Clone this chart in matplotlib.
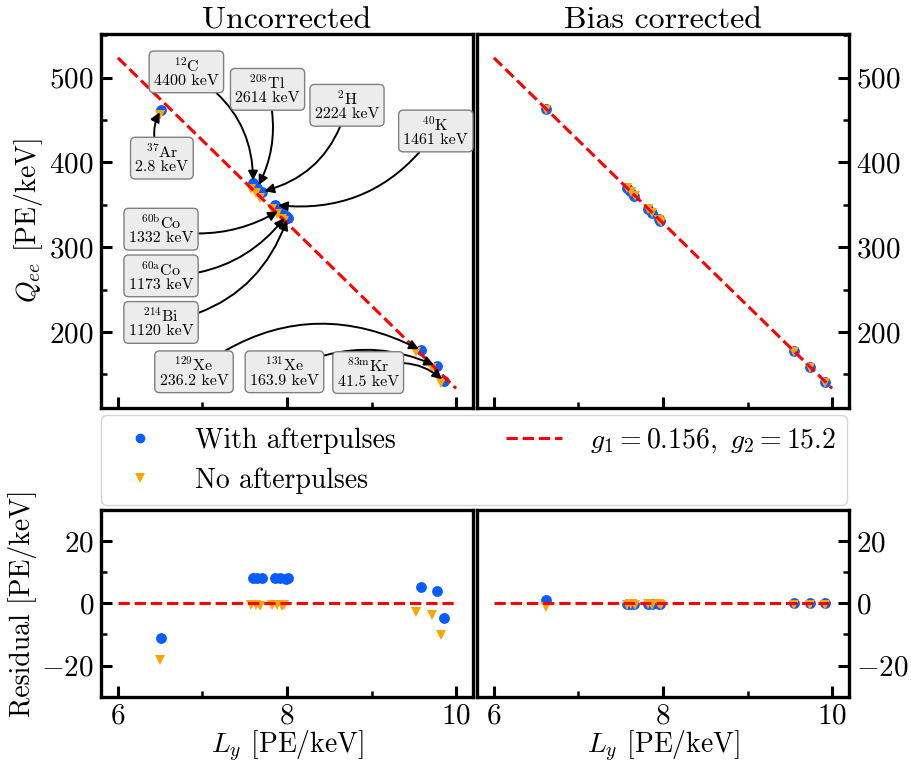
import numpy as np
import matplotlib
matplotlib.use("Agg")
import matplotlib.pyplot as plt
from matplotlib.ticker import MultipleLocator
from matplotlib.lines import Line2D

plt.rcParams.update({
    "font.family": "serif",
    "font.serif": ["cmr10", "DejaVu Serif"],
    "mathtext.fontset": "cm",
    "axes.formatter.use_mathtext": True,
    "font.size": 20,
})

# Detector gains and work function for the reference line
G1 = 0.156
G2 = 15.2
W_KEV = 0.01372

# Calibration sources
isotopes = [r"$^{37}$Ar", r"$^{12}$C", r"$^{208}$Tl", r"$^{2}$H", r"$^{40}$K",
            r"$^{60\mathrm{b}}$Co", r"$^{60\mathrm{a}}$Co", r"$^{214}$Bi",
            r"$^{129}$Xe", r"$^{131}$Xe", r"$^{83\mathrm{m}}$Kr"]
energies = ["2.8", "4400", "2614", "2224", "1461", "1332", "1173", "1120",
            "236.2", "163.9", "41.5"]

# Uncorrected yields, with afterpulses
ly_ap_unc = [6.51, 7.60, 7.65, 7.70, 7.86, 7.92, 7.99, 8.01, 9.59, 9.77, 9.86]
qee_ap_unc = [462.0, 375.3, 370.3, 365.3, 349.7, 343.9, 336.9, 335.0, 178.3, 159.7, 142.2]
res_ap_unc = [-11.2, 8.3, 8.2, 8.1, 8.0, 8.1, 7.9, 8.0, 5.2, 4.1, -4.6]

# Uncorrected yields, no afterpulses
ly_nap_unc = [6.50, 7.58, 7.63, 7.68, 7.82, 7.88, 7.94, 7.96, 9.53, 9.71, 9.82]
qee_nap_unc = [456.0, 368.3, 363.6, 358.5, 345.0, 339.2, 333.2, 331.3, 176.1, 157.5, 140.4]
res_nap_unc = [-18.2, -0.6, -0.5, -0.7, -0.6, -0.5, -0.7, -0.6, -2.8, -3.9, -10.3]

# Bias corrected yields, with afterpulses
ly_ap_cor = [6.62, 7.57, 7.61, 7.66, 7.82, 7.87, 7.95, 7.97, 9.55, 9.74, 9.92]
qee_ap_cor = [463.5, 369.7, 365.7, 360.9, 345.5, 340.4, 332.7, 330.7, 177.2, 158.6, 141.1]
res_ap_cor = [1.0, -0.2, -0.3, -0.2, -0.1, -0.3, -0.2, -0.2, 0.2, 0.1, 0.2]

# Bias corrected yields, no afterpulses
ly_nap_cor = [6.62, 7.57, 7.62, 7.67, 7.82, 7.87, 7.95, 7.98, 9.55, 9.74, 9.92]
qee_nap_cor = [461.3, 369.5, 364.7, 359.8, 345.3, 340.3, 332.6, 329.6, 176.5, 158.0, 140.4]
res_nap_cor = [-1.2, -0.4, -0.3, -0.4, -0.3, -0.4, -0.3, -0.4, -0.5, -0.5, -0.5]

# Label box placement (data coordinates) and arrow curvature
box_ly = [6.52, 6.81, 7.77, 8.71, 9.76, 6.51, 6.51, 6.51, 6.90, 7.97, 8.96]
box_q = [405.0, 506.7, 486.1, 467.3, 437.0, 321.2, 266.2, 211.3, 153.1, 153.1, 152.2]
arrow_rad = [-0.3, -0.3, -0.2, -0.3, -0.3, 0.2, 0.25, 0.3, -0.32, -0.25, -0.35]

BLUE = "#0a5cff"
ORANGE = "#ffa500"

ly_line = np.linspace(6, 10, 200)
q_line = G2 * (1.0 / W_KEV - ly_line / G1)

W, H = 912, 766
fig = plt.figure(figsize=(W / 100, H / 100), dpi=100)


def box(x0, x1, y_top, y_bot):
    return [x0 / W, 1 - y_bot / H, (x1 - x0) / W, (y_bot - y_top) / H]


ax_tl = fig.add_axes(box(101, 473, 34.3, 407.5))
ax_tr = fig.add_axes(box(477, 849, 34.3, 407.5))
ax_bl = fig.add_axes(box(101, 473, 510, 696.7))
ax_br = fig.add_axes(box(477, 849, 510, 696.7))


def style(ax, right=False, top=True):
    for s in ax.spines.values():
        s.set_linewidth(2.4)
    ax.set_xlim(5.8, 10.2)
    ax.xaxis.set_major_locator(MultipleLocator(2))
    ax.xaxis.set_minor_locator(MultipleLocator(1))
    if top:
        ax.set_ylim(111, 551)
        ax.yaxis.set_major_locator(MultipleLocator(100))
        ax.yaxis.set_minor_locator(MultipleLocator(50))
    else:
        ax.set_ylim(-30, 30)
        ax.yaxis.set_major_locator(MultipleLocator(20))
        ax.yaxis.set_minor_locator(MultipleLocator(10))
    ax.tick_params(which="major", direction="in", length=8, width=2.2,
                   labelsize=21, pad=5)
    ax.tick_params(which="minor", direction="in", length=4.5, width=1.8)
    ax.tick_params(which="both", top=False, left=not right, right=right,
                   labelleft=not right, labelright=right, labelbottom=not top)


for ax, r, t in [(ax_tl, False, True), (ax_tr, True, True),
                 (ax_bl, False, False), (ax_br, True, False)]:
    style(ax, right=r, top=t)

mk = dict(linestyle="none", markeredgewidth=0, markersize=7.8)

# Yield panels
for ax, la, qa, ln, qn in [(ax_tl, ly_ap_unc, qee_ap_unc, ly_nap_unc, qee_nap_unc),
                           (ax_tr, ly_ap_cor, qee_ap_cor, ly_nap_cor, qee_nap_cor)]:
    ax.plot(la, qa, marker="o", color=BLUE, zorder=3, **mk)
    ax.plot(ln, qn, marker="v", color=ORANGE, zorder=4, **mk)
    ax.plot(ly_line, q_line, "--", color="red", lw=2.2, zorder=5)

# Residual panels
for ax, la, ra, ln, rn in [(ax_bl, ly_ap_unc, res_ap_unc, ly_nap_unc, res_nap_unc),
                           (ax_br, ly_ap_cor, res_ap_cor, ly_nap_cor, res_nap_cor)]:
    ax.plot(la, ra, marker="o", color=BLUE, zorder=3, **mk)
    ax.plot(ln, rn, marker="v", color=ORANGE, zorder=4, **mk)
    ax.plot([6, 10], [0, 0], "--", color="red", lw=2.2, zorder=5)

# Source labels with arrows
for i in range(len(isotopes)):
    ax_tl.annotate(
        isotopes[i] + "\n" + energies[i] + " keV",
        xy=(ly_ap_unc[i], qee_ap_unc[i]), xytext=(box_ly[i], box_q[i]),
        fontsize=11.5, ha="center", va="center", multialignment="center",
        linespacing=1.0, zorder=6,
        bbox=dict(boxstyle="round,pad=0.3", fc="#ececec", ec="#808080", lw=1),
        arrowprops=dict(arrowstyle="-|>", color="k", lw=1.4, mutation_scale=14,
                        shrinkA=0, shrinkB=2,
                        connectionstyle=f"arc3,rad={arrow_rad[i]}"),
    )

ax_tl.set_title("Uncorrected", fontsize=23, pad=4)
ax_tr.set_title("Bias corrected", fontsize=23, pad=4)
ax_tl.set_ylabel(r"$Q_{ee}$ [PE/keV]", fontsize=20, labelpad=3)
ax_bl.set_ylabel("Residual [PE/keV]", fontsize=20, labelpad=3)
ax_bl.set_xlabel(r"$L_y$ [PE/keV]", fontsize=20, labelpad=-1)
ax_br.set_xlabel(r"$L_y$ [PE/keV]", fontsize=20, labelpad=-1)

handles = [
    Line2D([], [], marker="o", color=BLUE, linestyle="none", markersize=7, markeredgewidth=0),
    Line2D([], [], marker="v", color=ORANGE, linestyle="none", markersize=7, markeredgewidth=0),
    Line2D([], [], linestyle="--", color="red", lw=2.2),
]
labels = ["With afterpulses", "No afterpulses", r"$g_1 = 0.156,\ g_2 = 15.2$"]
fig.legend(handles, labels, ncol=2, loc="lower left", mode="expand",
           bbox_to_anchor=(101 / W, 1 - 505 / H, 746 / W, 90 / H),
           borderaxespad=0, fontsize=20, handletextpad=1.0)

fig.savefig("out.png", dpi=100)
